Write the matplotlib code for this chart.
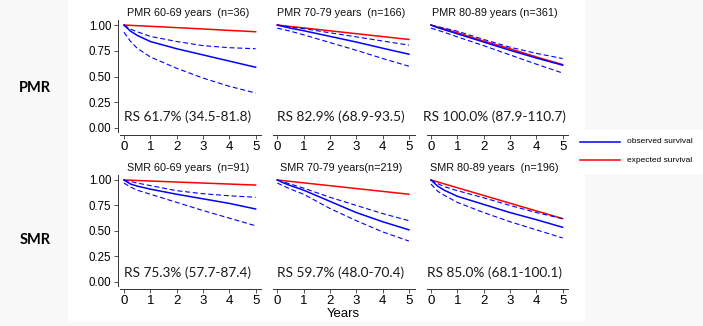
import numpy as np
import matplotlib
matplotlib.use("Agg")
import matplotlib.pyplot as plt
from matplotlib.patches import Rectangle

t = [0, 0.25, 0.5, 1, 2, 3, 4, 5]

titles = [["PMR 60-69 years  (n=36)", "PMR 70-79 years  (n=166)", "PMR 80-89 years (n=361)"],
          ["SMR 60-69 years  (n=91)", "SMR 70-79 years(n=219)", "SMR 80-89 years  (n=196)"]]
rs_text = [["RS 61.7% (34.5-81.8)", "RS 82.9% (68.9-93.5)", "RS 100.0% (87.9-110.7)"],
           ["RS 75.3% (57.7-87.4)", "RS 59.7% (48.0-70.4)", "RS 85.0% (68.1-100.1)"]]
row_labels = ["PMR", "SMR"]

# observed survival
obs = [[[1.0, 0.94, 0.90, 0.84, 0.77, 0.71, 0.65, 0.59],
        [1.0, 0.985, 0.97, 0.945, 0.89, 0.835, 0.775, 0.717],
        [1.0, 0.975, 0.955, 0.915, 0.835, 0.755, 0.68, 0.61]],
       [[1.0, 0.96, 0.94, 0.91, 0.86, 0.815, 0.77, 0.715],
        [1.0, 0.97, 0.945, 0.90, 0.79, 0.68, 0.59, 0.51],
        [1.0, 0.94, 0.90, 0.84, 0.76, 0.68, 0.61, 0.535]]]
# upper confidence limit
upp = [[[1.0, 0.96, 0.935, 0.89, 0.84, 0.80, 0.78, 0.77],
        [1.0, 0.99, 0.98, 0.965, 0.925, 0.885, 0.845, 0.805],
        [1.0, 0.985, 0.97, 0.94, 0.86, 0.785, 0.725, 0.675]],
       [[1.0, 0.985, 0.97, 0.945, 0.895, 0.865, 0.845, 0.83],
        [1.0, 0.98, 0.96, 0.92, 0.83, 0.75, 0.67, 0.60],
        [1.0, 0.965, 0.935, 0.895, 0.825, 0.75, 0.68, 0.62]]]
# lower confidence limit
low = [[[0.93, 0.84, 0.775, 0.69, 0.58, 0.485, 0.405, 0.34],
        [0.97, 0.955, 0.94, 0.905, 0.83, 0.755, 0.675, 0.60],
        [0.97, 0.95, 0.93, 0.885, 0.80, 0.71, 0.62, 0.534]],
       [[0.97, 0.93, 0.90, 0.86, 0.78, 0.70, 0.625, 0.55],
        [0.97, 0.94, 0.91, 0.86, 0.72, 0.60, 0.49, 0.40],
        [0.96, 0.89, 0.85, 0.78, 0.68, 0.59, 0.51, 0.43]]]
# expected survival
exp_ = [[[1.0, 0.997, 0.994, 0.988, 0.975, 0.962, 0.948, 0.935],
         [1.0, 0.993, 0.986, 0.972, 0.944, 0.916, 0.888, 0.86],
         [1.0, 0.98, 0.962, 0.925, 0.845, 0.77, 0.69, 0.616]],
        [[1.0, 0.998, 0.995, 0.99, 0.98, 0.97, 0.96, 0.95],
         [1.0, 0.993, 0.986, 0.972, 0.944, 0.916, 0.888, 0.86],
         [1.0, 0.981, 0.962, 0.924, 0.848, 0.772, 0.696, 0.62]]]

W, H = 703, 326
fig = plt.figure(figsize=(W / 100, H / 100), dpi=100, facecolor="#f8f8f8")
fig.patches.append(Rectangle((68 / W, 1 - 320 / H), (584 - 68) / W, 320 / H,
                             transform=fig.transFigure, color="white", zorder=-5))
fig.patches.append(Rectangle((575 / W, 1 - 173 / H), (W - 575) / W, 43 / H,
                             transform=fig.transFigure, color="white", zorder=-5))

lefts = [118.2, 271.5, 425.2]
rows = [(19.9, 132.1), (174.9, 285.8)]
aw = 144

for r in range(2):
    top, bot = rows[r]
    for c in range(3):
        ax = fig.add_axes([lefts[c] / W, 1 - bot / H, aw / W, (bot - top) / H])
        ax.set_facecolor("none")
        ax.plot(t, exp_[r][c], color="red", lw=1.1)
        ax.plot(t, obs[r][c], color="blue", lw=1.1)
        ax.plot(t, upp[r][c], color="blue", lw=0.8, ls=(0, (4.5, 2.5)))
        ax.plot(t, low[r][c], color="blue", lw=0.8, ls=(0, (4.5, 2.5)))
        ax.set_xlim(-0.22, 5.25)
        ax.set_ylim(-0.04, 1.05)
        ax.spines["top"].set_visible(False)
        ax.spines["right"].set_visible(False)
        ax.spines["bottom"].set_position(("outward", 2))
        ax.spines["bottom"].set_bounds(-0.15, 5.22)
        ax.set_xticks([0, 1, 2, 3, 4, 5])
        ax.tick_params(axis="x", length=3, width=0.6, labelsize=9.5, pad=1.5, color="#333333")
        for s in ["bottom", "left"]:
            ax.spines[s].set_linewidth(0.7)
            ax.spines[s].set_color("#333333")
        if c == 0:
            ax.set_yticks([0, 0.25, 0.5, 0.75, 1.0])
            ax.set_yticklabels(["0.00", "0.25", "0.50", "0.75", "1.00"])
            ax.tick_params(axis="y", length=3, width=0.6, labelsize=8.3, pad=2, color="#333333")
        else:
            ax.spines["left"].set_visible(False)
            ax.set_yticks([])
        for lab in ax.get_xticklabels() + ax.get_yticklabels():
            lab.set_fontfamily("Liberation Sans")
        ax.text(2.42, 1.12, titles[r][c], ha="center", va="center", fontsize=7.8,
                family="Liberation Sans", color="#111111")
        ax.text(2.4, 0.11 if r == 0 else 0.09, rs_text[r][c], ha="center", va="center",
                fontsize=9.8, family="Lato", color="#1a1a1a")
        if r == 1 and c == 1:
            ax.set_xlabel("Years", fontsize=9.5, family="Liberation Sans", labelpad=0.5)

fig.text(35 / W, 1 - 88 / H, row_labels[0], fontsize=10.5, fontweight="bold", family="Lato",
         ha="center", va="center")
fig.text(35 / W, 1 - 240 / H, row_labels[1], fontsize=10.5, fontweight="bold", family="Lato",
         ha="center", va="center")

# legend
fig.add_artist(plt.Line2D([580 / W, 620 / W], [1 - 142 / H] * 2, color="blue", lw=1.1))
fig.add_artist(plt.Line2D([580 / W, 620 / W], [1 - 160 / H] * 2, color="red", lw=1.1))
fig.text(627 / W, 1 - 142 / H, "observed survival", fontsize=6, family="Liberation Sans",
         va="center")
fig.text(627 / W, 1 - 160 / H, "expected survival", fontsize=6, family="Liberation Sans",
         va="center")

fig.savefig("out.png", dpi=100, facecolor=fig.get_facecolor())
